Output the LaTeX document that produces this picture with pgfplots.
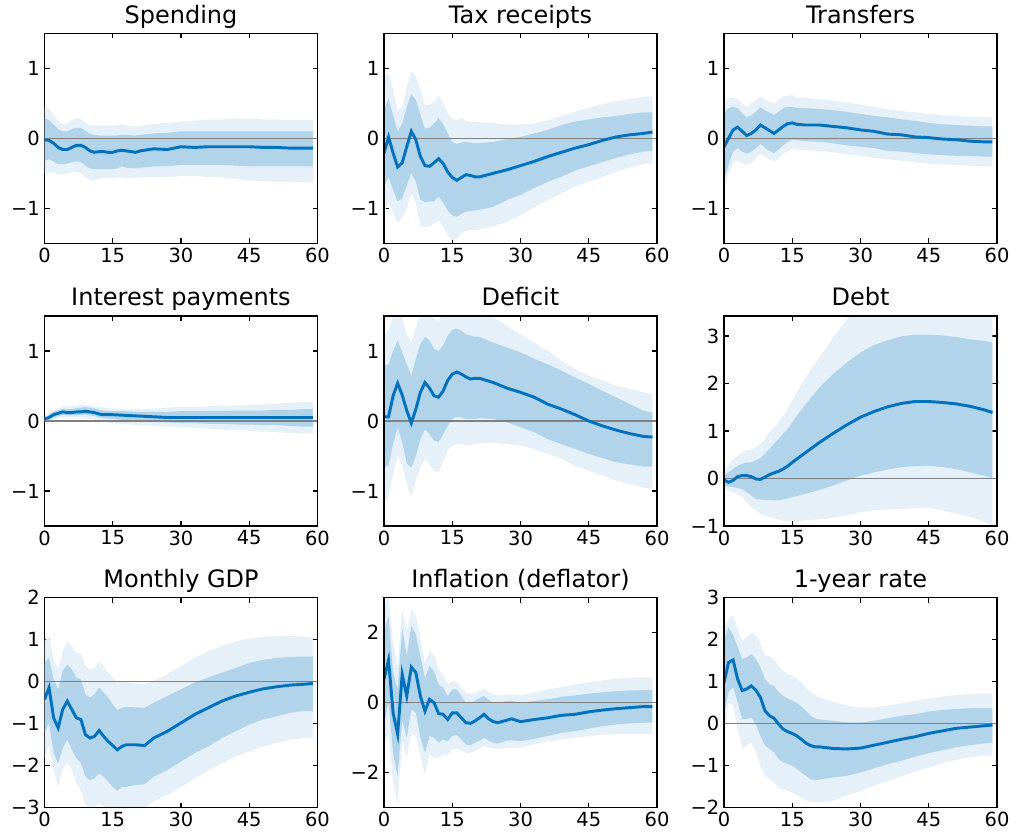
\documentclass[border=0pt]{standalone}
\usepackage{fontspec}
\setmainfont{DejaVu Sans}
\usepackage{pgfplots}
\pgfplotsset{compat=1.18}
\usepackage{pgfplotstable}
\usepgfplotslibrary{fillbetween}
\definecolor{lineblue}{RGB}{0,114,189}
\definecolor{bandin}{RGB}{178,212,234}
\definecolor{bandout}{RGB}{229,240,249}
\definecolor{zerogray}{RGB}{128,128,128}

\pgfplotstableread{
t m il ih ol oh
0 -0.02 -0.32 0.29 -0.50 0.45
1 -0.03 -0.30 0.26 -0.48 0.43
2 -0.07 -0.33 0.20 -0.49 0.33
3 -0.13 -0.37 0.13 -0.52 0.25
4 -0.16 -0.37 0.10 -0.51 0.20
5 -0.16 -0.36 0.10 -0.50 0.21
6 -0.13 -0.34 0.13 -0.49 0.26
7 -0.10 -0.33 0.15 -0.48 0.29
8 -0.10 -0.34 0.15 -0.50 0.27
9 -0.13 -0.39 0.11 -0.55 0.22
10 -0.18 -0.43 0.06 -0.59 0.19
11 -0.20 -0.44 0.05 -0.60 0.19
12 -0.19 -0.44 0.04 -0.58 0.18
13 -0.19 -0.44 0.04 -0.57 0.18
14 -0.20 -0.44 0.04 -0.57 0.18
15 -0.20 -0.44 0.04 -0.57 0.18
16 -0.18 -0.43 0.04 -0.56 0.19
17 -0.17 -0.40 0.05 -0.55 0.20
18 -0.18 -0.42 0.05 -0.57 0.18
20 -0.20 -0.43 0.04 -0.57 0.17
21 -0.18 -0.42 0.05 -0.56 0.18
24 -0.15 -0.40 0.07 -0.55 0.21
27 -0.16 -0.40 0.08 -0.55 0.22
30 -0.12 -0.38 0.10 -0.54 0.24
33 -0.13 -0.38 0.10 -0.54 0.25
36 -0.12 -0.38 0.10 -0.55 0.27
39 -0.12 -0.38 0.10 -0.56 0.27
42 -0.12 -0.39 0.10 -0.58 0.28
45 -0.12 -0.40 0.10 -0.60 0.28
48 -0.13 -0.40 0.10 -0.61 0.27
51 -0.13 -0.40 0.10 -0.62 0.27
54 -0.14 -0.40 0.10 -0.62 0.26
57 -0.14 -0.40 0.10 -0.63 0.26
59 -0.14 -0.40 0.10 -0.63 0.26
}\tSpend

\pgfplotstableread{
t m il ih ol oh
0 -0.21 -0.69 0.40 -1.07 0.86
1 0.02 -0.55 0.57 -0.90 0.94
2 -0.21 -0.74 0.33 -1.07 0.69
3 -0.41 -0.90 0.10 -1.21 0.40
4 -0.35 -0.86 0.21 -1.14 0.45
5 -0.12 -0.67 0.45 -1.00 0.74
6 0.10 -0.50 0.63 -0.78 0.96
7 -0.02 -0.62 0.55 -0.93 0.88
8 -0.26 -0.88 0.33 -1.25 0.71
9 -0.39 -0.91 0.14 -1.27 0.48
10 -0.40 -0.90 0.15 -1.26 0.48
11 -0.35 -0.90 0.21 -1.21 0.52
12 -0.29 -0.83 0.29 -1.17 0.61
13 -0.36 -0.92 0.20 -1.26 0.52
14 -0.48 -1.03 0.07 -1.38 0.36
15 -0.56 -1.10 -0.05 -1.45 0.28
16 -0.60 -1.12 -0.08 -1.43 0.26
17 -0.56 -1.08 -0.06 -1.36 0.29
18 -0.52 -1.05 -0.05 -1.32 0.25
19 -0.53 -1.04 -0.06 -1.31 0.24
20 -0.55 -1.03 -0.07 -1.31 0.24
21 -0.55 -1.02 -0.07 -1.30 0.23
24 -0.50 -0.98 -0.05 -1.26 0.22
27 -0.45 -0.88 -0.01 -1.19 0.20
30 -0.39 -0.81 0.02 -1.10 0.20
33 -0.33 -0.71 0.07 -0.98 0.21
36 -0.26 -0.62 0.12 -0.88 0.26
39 -0.20 -0.55 0.19 -0.79 0.32
42 -0.14 -0.46 0.24 -0.69 0.38
45 -0.09 -0.40 0.27 -0.62 0.44
48 -0.03 -0.34 0.30 -0.55 0.49
51 0.02 -0.28 0.32 -0.48 0.53
54 0.05 -0.23 0.35 -0.42 0.56
57 0.07 -0.19 0.37 -0.37 0.59
59 0.09 -0.18 0.37 -0.36 0.60
}\tTax

\pgfplotstableread{
t m il ih ol oh
0 -0.12 -0.60 0.36 -0.74 0.50
1 0.00 -0.38 0.43 -0.50 0.57
2 0.12 -0.19 0.45 -0.36 0.58
3 0.16 -0.14 0.43 -0.31 0.56
4 0.10 -0.19 0.36 -0.35 0.51
5 0.04 -0.22 0.30 -0.38 0.45
6 0.07 -0.19 0.33 -0.35 0.50
7 0.12 -0.14 0.38 -0.29 0.55
8 0.19 -0.08 0.44 -0.22 0.60
9 0.15 -0.13 0.40 -0.26 0.56
10 0.11 -0.18 0.37 -0.30 0.52
11 0.07 -0.21 0.33 -0.33 0.50
12 0.12 -0.16 0.38 -0.29 0.55
13 0.17 -0.10 0.43 -0.22 0.60
14 0.21 -0.05 0.45 -0.18 0.61
15 0.22 -0.02 0.45 -0.15 0.62
16 0.20 -0.03 0.43 -0.17 0.58
18 0.19 -0.04 0.43 -0.17 0.58
21 0.19 -0.05 0.42 -0.18 0.56
24 0.17 -0.07 0.40 -0.20 0.54
27 0.15 -0.10 0.38 -0.23 0.51
30 0.12 -0.12 0.35 -0.25 0.48
33 0.10 -0.14 0.32 -0.28 0.45
36 0.06 -0.18 0.30 -0.30 0.41
39 0.05 -0.19 0.27 -0.32 0.39
42 0.02 -0.21 0.25 -0.34 0.37
45 0.01 -0.23 0.22 -0.36 0.35
48 -0.01 -0.24 0.20 -0.37 0.33
51 -0.02 -0.25 0.19 -0.38 0.32
54 -0.04 -0.25 0.18 -0.39 0.31
57 -0.05 -0.26 0.17 -0.40 0.31
59 -0.05 -0.26 0.17 -0.40 0.31
}\tTransf

\pgfplotstableread{
t m il ih ol oh
0 0.03 0.00 0.04 -0.02 0.05
1 0.05 0.02 0.09 0.00 0.11
2 0.09 0.05 0.13 0.03 0.16
3 0.11 0.07 0.15 0.04 0.18
4 0.13 0.09 0.17 0.05 0.20
5 0.12 0.08 0.17 0.05 0.21
6 0.12 0.08 0.17 0.05 0.21
7 0.13 0.08 0.18 0.05 0.22
8 0.13 0.09 0.19 0.05 0.23
9 0.14 0.09 0.20 0.04 0.23
10 0.13 0.08 0.19 0.03 0.22
11 0.12 0.07 0.18 0.02 0.21
12 0.10 0.05 0.16 0.00 0.20
13 0.09 0.04 0.15 -0.01 0.19
15 0.09 0.03 0.14 -0.03 0.18
18 0.08 0.01 0.14 -0.05 0.17
21 0.07 0.00 0.13 -0.06 0.17
24 0.06 -0.01 0.13 -0.07 0.18
27 0.05 -0.02 0.13 -0.08 0.19
30 0.05 -0.03 0.14 -0.09 0.20
33 0.05 -0.03 0.14 -0.10 0.20
36 0.05 -0.04 0.14 -0.11 0.21
39 0.05 -0.04 0.14 -0.12 0.22
42 0.05 -0.05 0.15 -0.13 0.22
45 0.05 -0.05 0.15 -0.14 0.23
48 0.05 -0.06 0.15 -0.15 0.24
51 0.05 -0.06 0.16 -0.16 0.25
54 0.05 -0.07 0.16 -0.17 0.26
57 0.05 -0.08 0.17 -0.18 0.27
59 0.05 -0.08 0.17 -0.18 0.27
}\tInt

\pgfplotstableread{
t m il ih ol oh
0 0.06 -0.66 0.79 -1.16 1.24
1 0.06 -0.64 0.81 -1.09 1.29
2 0.36 -0.33 1.00 -0.76 1.53
3 0.54 -0.09 1.15 -0.50 1.58
4 0.37 -0.30 0.98 -0.64 1.48
5 0.15 -0.61 0.81 -0.90 1.24
6 -0.03 -0.66 0.65 -1.09 1.12
7 0.17 -0.50 0.89 -0.85 1.34
8 0.41 -0.26 1.10 -0.66 1.53
9 0.55 -0.12 1.20 -0.54 1.62
10 0.47 -0.19 1.15 -0.61 1.55
11 0.36 -0.28 1.03 -0.71 1.46
12 0.34 -0.30 1.00 -0.73 1.43
13 0.43 -0.19 1.08 -0.59 1.53
14 0.58 -0.07 1.22 -0.42 1.60
15 0.67 0.03 1.30 -0.35 1.62
16 0.70 0.06 1.32 -0.33 1.65
17 0.67 0.05 1.29 -0.33 1.65
18 0.63 0.03 1.24 -0.35 1.62
19 0.60 0.03 1.22 -0.34 1.60
20 0.61 0.03 1.20 -0.33 1.60
21 0.61 0.04 1.20 -0.32 1.58
24 0.55 0.03 1.12 -0.31 1.48
27 0.47 -0.02 1.05 -0.33 1.36
30 0.41 -0.09 0.98 -0.35 1.24
33 0.34 -0.16 0.89 -0.40 1.12
36 0.24 -0.26 0.81 -0.47 1.00
39 0.17 -0.33 0.72 -0.54 0.86
42 0.09 -0.40 0.62 -0.64 0.74
45 0.00 -0.47 0.53 -0.71 0.65
48 -0.07 -0.53 0.43 -0.78 0.58
51 -0.13 -0.59 0.34 -0.85 0.50
54 -0.18 -0.62 0.24 -0.90 0.46
57 -0.22 -0.65 0.15 -0.95 0.41
59 -0.23 -0.65 0.12 -0.97 0.39
}\tDef

\pgfplotstableread{
t m il ih ol oh
0 -0.03 -0.15 0.06 -0.22 0.17
1 -0.08 -0.17 0.13 -0.25 0.27
2 -0.04 -0.18 0.20 -0.29 0.41
3 0.04 -0.20 0.27 -0.32 0.48
4 0.06 -0.22 0.31 -0.38 0.54
5 0.06 -0.29 0.34 -0.50 0.59
6 0.04 -0.36 0.34 -0.60 0.61
7 -0.01 -0.43 0.38 -0.67 0.66
8 -0.02 -0.44 0.43 -0.74 0.73
9 0.03 -0.45 0.52 -0.78 0.83
10 0.08 -0.45 0.62 -0.81 0.97
11 0.12 -0.46 0.73 -0.84 1.08
12 0.15 -0.46 0.83 -0.87 1.18
13 0.20 -0.44 0.94 -0.89 1.32
14 0.26 -0.42 1.04 -0.90 1.46
15 0.34 -0.39 1.18 -0.90 1.64
16 0.41 -0.37 1.32 -0.90 1.81
18 0.55 -0.32 1.57 -0.88 2.13
21 0.76 -0.24 1.92 -0.86 2.55
24 0.95 -0.15 2.20 -0.83 2.97
27 1.13 -0.04 2.44 -0.78 3.35
30 1.29 0.06 2.65 -0.71 3.65
33 1.41 0.13 2.81 -0.67 3.85
36 1.51 0.19 2.91 -0.65 4.00
39 1.58 0.24 2.99 -0.64 4.10
42 1.62 0.26 3.03 -0.63 4.10
45 1.62 0.27 3.03 -0.62 4.10
48 1.60 0.24 3.01 -0.67 4.10
51 1.57 0.20 2.98 -0.74 4.10
54 1.52 0.13 2.93 -0.81 4.00
57 1.45 0.06 2.90 -0.90 4.00
59 1.39 0.01 2.86 -0.99 4.00
}\tDebt

\pgfplotstableread{
t m il ih ol oh
0 -0.42 -1.22 0.45 -1.82 0.97
1 -0.14 -0.98 0.57 -1.50 1.09
2 -0.86 -1.70 0.06 -2.14 0.53
3 -1.10 -1.94 -0.18 -2.50 0.30
4 -0.66 -1.58 0.26 -2.10 0.73
5 -0.46 -1.38 0.41 -1.90 0.95
6 -0.66 -1.62 0.30 -2.10 0.85
7 -0.86 -1.82 0.10 -2.42 0.69
8 -0.90 -1.94 0.06 -2.58 0.69
9 -1.26 -2.26 -0.30 -2.93 0.37
10 -1.34 -2.34 -0.38 -2.99 0.30
11 -1.30 -2.30 -0.30 -2.99 0.33
12 -1.16 -2.18 -0.14 -2.89 0.47
13 -1.30 -2.26 -0.26 -2.97 0.37
14 -1.42 -2.38 -0.38 -3.05 0.22
15 -1.52 -2.50 -0.54 -3.10 0.10
16 -1.62 -2.60 -0.68 -3.15 -0.02
17 -1.54 -2.51 -0.62 -3.12 0.02
18 -1.50 -2.50 -0.60 -3.12 -0.01
20 -1.50 -2.46 -0.61 -3.10 -0.04
22 -1.52 -2.44 -0.62 -3.02 -0.06
24 -1.34 -2.26 -0.50 -2.85 0.02
27 -1.18 -2.10 -0.34 -2.70 0.18
30 -0.98 -1.90 -0.18 -2.50 0.37
33 -0.78 -1.70 -0.02 -2.30 0.57
36 -0.62 -1.54 0.10 -2.11 0.73
39 -0.46 -1.34 0.22 -1.94 0.85
42 -0.34 -1.18 0.33 -1.78 0.96
45 -0.25 -1.02 0.45 -1.66 1.03
48 -0.17 -0.90 0.52 -1.54 1.07
51 -0.12 -0.82 0.57 -1.46 1.09
54 -0.08 -0.74 0.59 -1.38 1.09
57 -0.06 -0.70 0.60 -1.34 1.08
59 -0.04 -0.70 0.60 -1.34 1.05
}\tGDP

\pgfplotstableread{
t m il ih ol oh
0 0.67 -0.62 2.00 -1.24 2.76
1 1.22 0.00 2.48 -0.86 3.05
2 -0.29 -1.43 0.86 -2.29 1.71
3 -0.90 -2.10 0.38 -2.86 1.05
4 0.81 -0.48 2.14 -1.14 2.67
5 0.19 -1.00 1.33 -1.57 2.05
6 1.02 -0.19 2.19 -0.86 2.65
7 0.86 -0.29 1.95 -0.95 2.48
8 0.19 -1.00 1.33 -1.52 1.86
9 -0.24 -1.43 0.71 -2.05 1.14
10 0.10 -0.95 1.05 -1.48 1.48
11 0.00 -1.00 0.90 -1.57 1.38
12 -0.31 -1.14 0.52 -1.57 0.95
13 -0.33 -1.05 0.43 -1.48 0.81
14 -0.48 -1.10 0.19 -1.48 0.52
15 -0.29 -0.95 0.38 -1.33 0.62
16 -0.29 -0.92 0.38 -1.30 0.59
17 -0.43 -1.05 0.19 -1.36 0.43
18 -0.57 -1.19 0.00 -1.43 0.29
19 -0.59 -1.22 0.00 -1.43 0.26
20 -0.52 -1.14 0.05 -1.38 0.27
21 -0.43 -1.08 0.14 -1.31 0.33
22 -0.33 -1.00 0.19 -1.24 0.41
23 -0.46 -1.08 0.08 -1.28 0.30
24 -0.54 -1.14 0.00 -1.31 0.24
25 -0.57 -1.17 0.00 -1.33 0.21
27 -0.50 -1.08 0.05 -1.30 0.24
28 -0.46 -1.07 0.06 -1.29 0.24
30 -0.54 -1.10 0.00 -1.29 0.21
33 -0.48 -1.03 0.05 -1.19 0.29
36 -0.43 -0.95 0.10 -1.10 0.38
39 -0.36 -0.86 0.17 -1.05 0.45
42 -0.33 -0.81 0.21 -1.00 0.52
45 -0.26 -0.74 0.26 -0.95 0.59
48 -0.21 -0.67 0.30 -0.92 0.64
51 -0.17 -0.62 0.33 -0.90 0.69
54 -0.14 -0.59 0.35 -0.90 0.71
57 -0.11 -0.57 0.36 -0.89 0.73
59 -0.11 -0.57 0.36 -0.89 0.71
}\tInfl

\pgfplotstableread{
t m il ih ol oh
0 0.98 0.23 2.02 -0.29 2.33
1 1.46 0.75 2.29 0.51 2.49
2 1.52 0.87 2.13 0.43 2.59
3 1.06 0.51 1.82 -0.13 2.25
4 0.79 0.11 1.54 -0.60 1.98
5 0.83 0.11 1.58 -0.52 2.07
6 0.90 0.15 1.66 -0.44 2.17
7 0.80 -0.01 1.54 -0.68 2.10
8 0.63 -0.29 1.34 -1.00 1.90
9 0.31 -0.52 1.06 -1.24 1.63
10 0.19 -0.60 0.94 -1.32 1.60
11 0.13 -0.68 0.90 -1.40 1.54
12 -0.01 -0.84 0.75 -1.52 1.38
13 -0.13 -0.92 0.67 -1.56 1.26
14 -0.19 -0.96 0.59 -1.60 1.18
15 -0.23 -1.00 0.55 -1.63 1.14
16 -0.29 -1.08 0.49 -1.70 1.08
17 -0.37 -1.16 0.41 -1.75 0.98
18 -0.46 -1.24 0.31 -1.82 0.87
19 -0.52 -1.32 0.19 -1.86 0.76
20 -0.55 -1.34 0.13 -1.87 0.68
21 -0.55 -1.33 0.10 -1.87 0.63
24 -0.59 -1.28 0.07 -1.83 0.52
27 -0.60 -1.24 0.03 -1.71 0.43
30 -0.58 -1.16 0.03 -1.60 0.39
33 -0.51 -1.06 0.07 -1.48 0.39
36 -0.44 -0.96 0.13 -1.36 0.43
39 -0.37 -0.88 0.19 -1.25 0.49
42 -0.31 -0.79 0.23 -1.14 0.55
45 -0.23 -0.70 0.29 -1.04 0.60
48 -0.17 -0.63 0.33 -0.94 0.65
51 -0.11 -0.56 0.35 -0.86 0.68
54 -0.08 -0.51 0.37 -0.80 0.71
57 -0.05 -0.47 0.37 -0.76 0.72
59 -0.03 -0.46 0.37 -0.76 0.72
}\tRate

\pgfplotsset{
  irf/.style={
    width=204.75pt, height=157.5pt, scale only axis,
    anchor=south west,
    xmin=0, xmax=60, xtick={0,15,30,45,60},
    xticklabels={0,15,30,45,60},
    tick align=inside, major tick length=3.75pt,
    axis line style={line width=0.9pt},
    tick style={black, line width=0.9pt},
    ticklabel style={font=\fontsize{14.6}{16}\selectfont},
    every axis title/.style={at={(0.5,1)}, anchor=base, yshift=7.5pt,
      inner sep=0pt, font=\fontsize{18}{20}\selectfont},
  }
}

\newcommand{\irfpanel}[4]{%
  \begin{axis}[irf, at={#3}, title={#2}, #4]
    \addplot[name path=OH, draw=none] table[x=t,y=oh]{#1};
    \addplot[name path=OL, draw=none] table[x=t,y=ol]{#1};
    \addplot[bandout] fill between[of=OH and OL];
    \addplot[name path=IH, draw=none] table[x=t,y=ih]{#1};
    \addplot[name path=IL, draw=none] table[x=t,y=il]{#1};
    \addplot[bandin] fill between[of=IH and IL];
    \addplot[zerogray, line width=0.8pt] coordinates {(0,0) (60,0)};
    \addplot[lineblue, line width=2.2pt] table[x=t,y=m]{#1};
    \draw[line width=0.9pt] (rel axis cs:0,0) rectangle (rel axis cs:1,1);
  \end{axis}%
}

\begin{document}
\begin{tikzpicture}
\irfpanel{\tSpend}{Spending}{(33.375pt,444.5pt)}{ymin=-1.5,ymax=1.5,ytick={-1,0,1},yticklabels={−1,0,1}}
\irfpanel{\tTax}{Tax receipts}{(288pt,444.5pt)}{ymin=-1.5,ymax=1.5,ytick={-1,0,1},yticklabels={−1,0,1}}
\irfpanel{\tTransf}{Transfers}{(543pt,444.5pt)}{ymin=-1.5,ymax=1.5,ytick={-1,0,1},yticklabels={−1,0,1}}
\irfpanel{\tInt}{Interest payments}{(33.375pt,232.5pt)}{ymin=-1.5,ymax=1.5,ytick={-1,0,1},yticklabels={−1,0,1}}
\irfpanel{\tDef}{Deficit}{(288pt,232.5pt)}{ymin=-1.5,ymax=1.5,ytick={-1,0,1},yticklabels={−1,0,1}}
\irfpanel{\tDebt}{Debt}{(543pt,232.5pt)}{ymin=-1,ymax=3.42,ytick={-1,0,1,2,3},yticklabels={−1,0,1,2,3}}
\irfpanel{\tGDP}{Monthly GDP}{(33.375pt,21.2pt)}{ymin=-3,ymax=2,ytick={-3,-2,-1,0,1,2},yticklabels={−3,−2,−1,0,1,2}}
\irfpanel{\tInfl}{Inflation (deflator)}{(288pt,21.2pt)}{ymin=-3,ymax=3,ytick={-2,0,2},yticklabels={−2,0,2}}
\irfpanel{\tRate}{1-year rate}{(543pt,21.2pt)}{ymin=-2,ymax=3,ytick={-2,-1,0,1,2,3},yticklabels={−2,−1,0,1,2,3}}
\pgfresetboundingbox
\useasboundingbox (0,0) rectangle (759.75pt,627pt);
\end{tikzpicture}
\end{document}
